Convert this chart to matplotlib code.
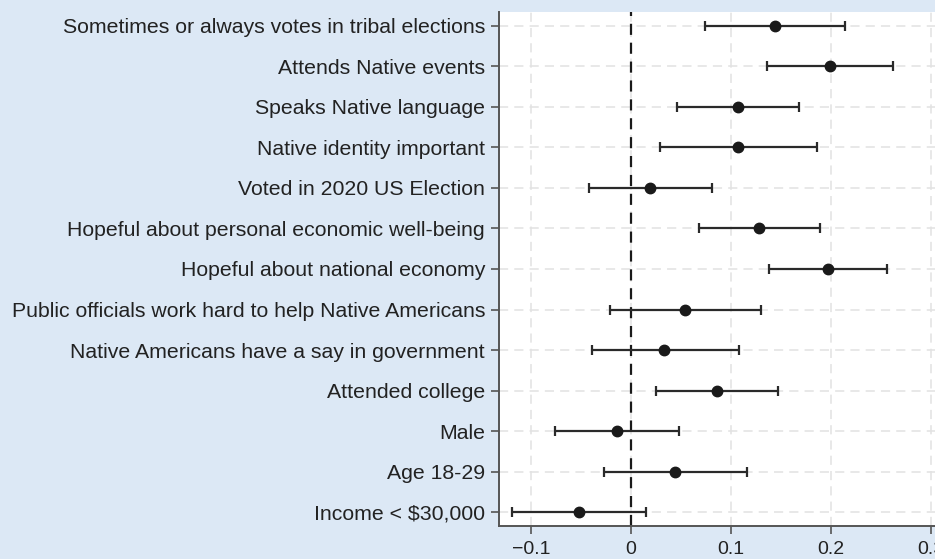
import matplotlib.pyplot as plt

plt.rcParams['font.family'] = ['Liberation Sans', 'DejaVu Sans']

# Outcomes, top to bottom
labels = [
    'Sometimes or always votes in tribal elections',
    'Attends Native events',
    'Speaks Native language',
    'Native identity important',
    'Voted in 2020 US Election',
    'Hopeful about personal economic well-being',
    'Hopeful about national economy',
    'Public officials work hard to help Native Americans',
    'Native Americans have a say in government',
    'Attended college',
    'Male',
    'Age 18-29',
    'Income < $30,000',
]
estimate = [0.144, 0.199, 0.107, 0.107, 0.019, 0.128, 0.197, 0.054, 0.033, 0.086, -0.014, 0.044, -0.052]
ci_low = [0.074, 0.136, 0.046, 0.029, -0.042, 0.068, 0.138, -0.021, -0.039, 0.025, -0.076, -0.027, -0.119]
ci_high = [0.214, 0.262, 0.168, 0.186, 0.081, 0.189, 0.256, 0.130, 0.108, 0.147, 0.048, 0.116, 0.015]

bg = '#dce8f5'
fig = plt.figure(figsize=(9.35, 5.59), dpi=100, facecolor=bg)
ax = fig.add_axes([499 / 935, 1 - 526 / 559, 436 / 935, 514 / 559])
ax.set_facecolor('white')

y = list(range(len(labels)))
xerr = [[e - lo for e, lo in zip(estimate, ci_low)],
        [hi - e for e, hi in zip(estimate, ci_high)]]

ax.axvline(0, color='#1a1a1a', linestyle=(0, (5, 3.5)), linewidth=1.6, zorder=2)
ax.errorbar(estimate, y, xerr=xerr, fmt='o', color='#1a1a1a', ecolor='#2a2a2a',
            markersize=7.5, elinewidth=1.6, capsize=3.5, capthick=1.6, zorder=3)

ax.set_yticks(y)
ax.set_yticklabels(labels)
ax.set_xticks([-0.1, 0, 0.1, 0.2, 0.3])
ax.set_xticklabels(['\u22120.1', '0', '0.1', '0.2', '0.3'])
ax.set_xlim(-0.132, 0.304)
ax.set_ylim(12.34, -0.34)

ax.grid(True, color='#e2e2e2', linestyle=(0, (6, 4)), linewidth=1.1, zorder=0)
ax.set_axisbelow(True)

for s in ['top', 'right']:
    ax.spines[s].set_visible(False)
for s in ['left', 'bottom']:
    ax.spines[s].set_color('#555555')
    ax.spines[s].set_linewidth(1.4)

ax.tick_params(axis='both', length=5.5, width=1.2, color='#555555', labelcolor='#222222')
ax.tick_params(axis='y', labelsize=15.3, pad=4.5)
ax.tick_params(axis='x', labelsize=14, pad=5)

fig.savefig('out.png', dpi=100, facecolor=bg)
